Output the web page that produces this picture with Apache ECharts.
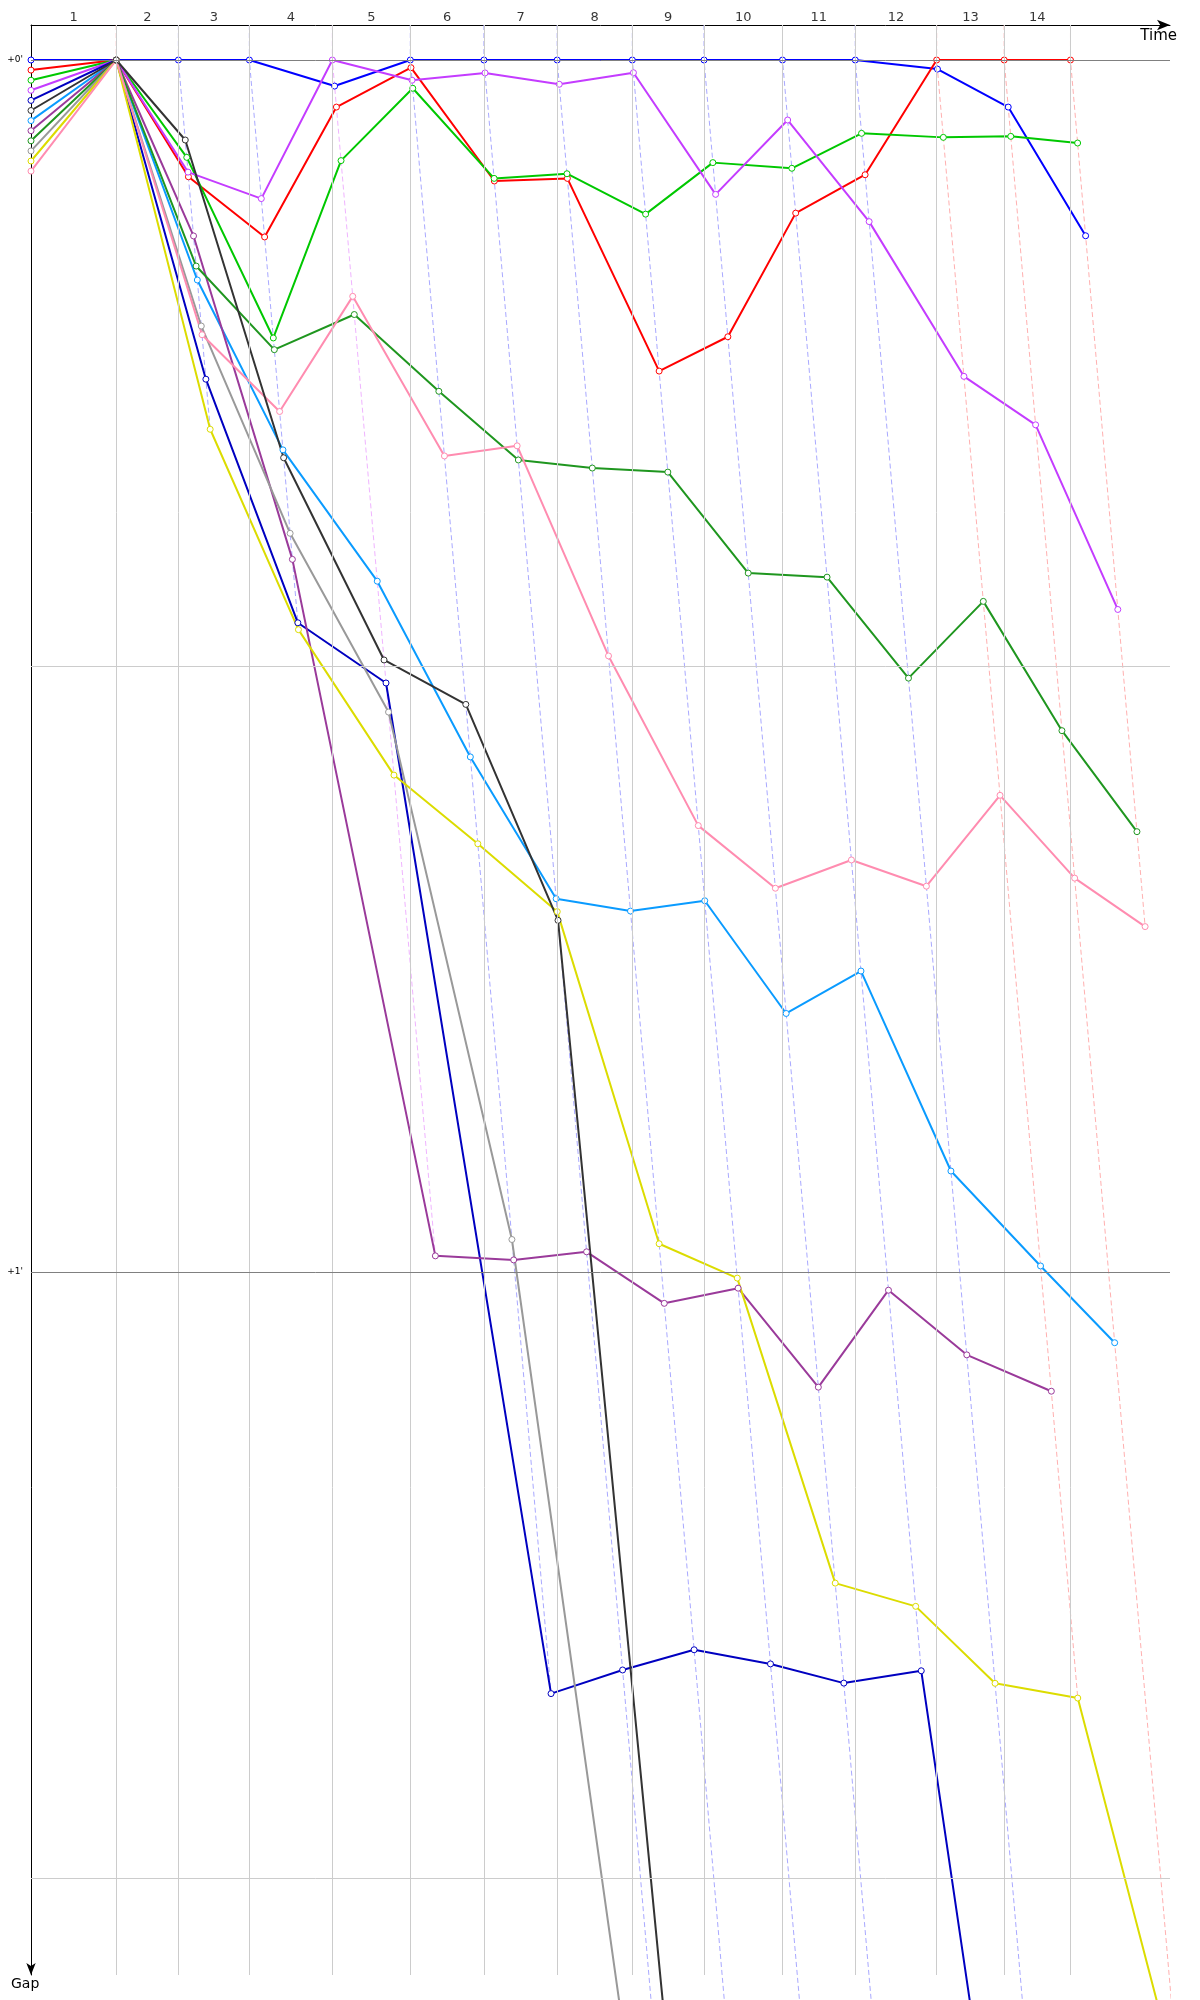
<!DOCTYPE html>
<html>
<head>
<meta charset="utf-8">
<script src="https://cdn.jsdelivr.net/npm/echarts@6/dist/echarts.min.js"></script>
<style>
html,body{margin:0;padding:0;background:#fff;}
#chart{width:1200px;height:2000px;}
</style>
</head>
<body>
<div id="chart"></div>
<script>
// ---- data ----
const lapLabels = ['1','2','3','4','5','6','7','8','9','10','11','12','13','14'];
// race time (s) at which the leader completed each lap
const lapEndTimes = [49.0, 84.7, 125.5, 173.2, 218.0, 260.3, 302.4, 345.6, 386.8, 431.9, 473.7, 520.5, 559.3, 597.4];
// leader at the end of each lap
const lapLeaders = ['red','blue','blue','violet','blue','blue','blue','blue','blue','blue','blue','red','red','red'];

// gap to leader (s): index 0 = start, index k = end of lap k
const gapsBlue      = [0.0, 0, 0, 0, 1.29, 0, 0, 0, 0, 0, 0, 0, 0.45, 2.33, 8.7];
const gapsRed       = [0.5, 0, 5.78, 8.76, 2.33, 0.38, 5.99, 5.86, 15.4, 13.7, 7.58, 5.68, 0, 0, 0];
const gapsGreen     = [1.0, 0, 4.82, 13.76, 4.98, 1.40, 5.86, 5.63, 7.63, 5.08, 5.36, 3.63, 3.83, 3.78, 4.11];
const gapsViolet    = [1.5, 0, 5.55, 6.86, 0, 1.0, 0.64, 1.2, 0.63, 6.65, 2.97, 8.0, 15.66, 18.06, 27.2];
const gapsDarkBlue  = [2.0, 0, 15.8, 27.86, 30.84, 80.87, 79.7, 78.7, 79.4, 80.35, 79.74, 138.8];
const gapsSky       = [3.0, 0, 10.89, 19.3, 25.8, 34.5, 41.52, 42.13, 41.62, 47.2, 45.1, 55.0, 59.7, 63.5];
const gapsPurple    = [3.5, 0, 8.71, 24.72, 59.2, 59.4, 59.0, 61.55, 60.8, 65.7, 60.9, 64.1, 65.9];
const gapsDarkGreen = [4.0, 0, 10.2, 14.34, 12.6, 16.4, 19.8, 20.2, 20.4, 25.4, 25.6, 30.6, 26.8, 33.2, 38.2];
const gapsGray      = [4.5, 0, 13.17, 23.43, 32.28, 58.39, 125, 165, 205, 245];
const gapsYellow    = [5.0, 0, 18.28, 28.2, 35.4, 38.8, 42.16, 58.6, 60.3, 75.4, 76.55, 80.36, 81.09, 100.2];
const gapsPink      = [5.5, 0, 13.6, 17.4, 11.7, 19.6, 19.1, 29.5, 37.9, 41.0, 39.6, 40.9, 36.4, 40.5, 42.9];
const gapsBlack     = [2.5, 0, 3.96, 19.69, 29.7, 31.9, 42.59, 380, 420, 460];

const carNames = ['blue','red','green','violet','darkblue','sky','purple','darkgreen','gray','yellow','pink','black'];
const carGaps  = [gapsBlue, gapsRed, gapsGreen, gapsViolet, gapsDarkBlue, gapsSky, gapsPurple, gapsDarkGreen, gapsGray, gapsYellow, gapsPink, gapsBlack];

// ---- styles ----
const carColors = {
  blue:'#0000ff', red:'#ff0000', green:'#00c800', violet:'#c43cff', darkblue:'#0000c0',
  black:'#333333', sky:'#0a9bff', purple:'#9a3a9a', darkgreen:'#1f961f', gray:'#999999',
  yellow:'#dcdc00', pink:'#ff8cb0'
};
const dashColors = { blue:'#a9a9ff', red:'#ffb0b0', violet:'#f0b4ff' };

const X_MIN = 0, X_MAX = 654.6, Y_MIN = -1.733, Y_MAX = 94.8;
const FONT = 'DejaVu Sans';

const series = [];

// grid lines (vertical at leader lap ends, horizontal every 30 s)
series.push({
  type: 'line', data: [], silent: true, z: 1,
  markLine: {
    silent: true, symbol: ['none','none'], animation: false,
    label: { show: false },
    data: [
      ...lapEndTimes.map(t => ({ xAxis: t, lineStyle: { color: '#cccccc', width: 1, type: 'solid' } })),
      { yAxis: 30, lineStyle: { color: '#cccccc', width: 1, type: 'solid' } },
      { yAxis: 90, lineStyle: { color: '#cccccc', width: 1, type: 'solid' } },
      { yAxis: 0, lineStyle: { color: '#808080', width: 1, type: 'solid' },
        label: { show: true, position: 'start', formatter: "+0'", color: '#000', fontSize: 9, fontFamily: FONT, distance: 8 } },
      { yAxis: 60, lineStyle: { color: '#808080', width: 1, type: 'solid' },
        label: { show: true, position: 'start', formatter: "+1'", color: '#000', fontSize: 9, fontFamily: FONT, distance: 8 } }
    ]
  }
});

// constant-lap dashed lines (leader time + gap)
lapEndTimes.forEach((t, i) => {
  let gMax = 0;
  carGaps.forEach(g => { if (g[i + 1] != null && g[i + 1] > gMax) gMax = g[i + 1]; });
  series.push({
    type: 'line', silent: true, z: 2, clip: false, showSymbol: false, symbol: 'none',
    lineStyle: { color: dashColors[lapLeaders[i]], width: 1, type: [5, 3] },
    emphasis: { disabled: true },
    data: [[t, Y_MIN], [t, 0], [t + gMax, gMax]]
  });
});

// lap number labels
series.push({
  type: 'scatter', silent: true, z: 5, clip: false, symbolSize: 0,
  label: { show: true, position: 'top', distance: 1, color: '#000', fontSize: 13, fontFamily: FONT,
           formatter: p => p.value[2] },
  data: lapLabels.map((lab, i) => [((i === 0 ? 0 : lapEndTimes[i - 1]) + lapEndTimes[i]) / 2, Y_MIN, lab])
});

// cars
carNames.forEach((name, ci) => {
  const g = carGaps[ci];
  const data = [];
  g.forEach((v, k) => {
    if (v == null) return;
    data.push(k === 0 ? [0, v] : [lapEndTimes[k - 1] + v, v]);
  });
  series.push({
    type: 'line', name: name, z: 3, clip: false, silent: true,
    symbol: 'circle', symbolSize: 6, showSymbol: true, showAllSymbol: true,
    itemStyle: { color: '#ffffff', borderColor: carColors[name], borderWidth: 1 },
    lineStyle: { color: carColors[name], width: 2 },
    emphasis: { disabled: true },
    data: data
  });
});

const chart = echarts.init(document.getElementById('chart'), null, { renderer: 'canvas' });
chart.setOption({
  animation: false,
  backgroundColor: '#ffffff',
  grid: { left: 31, top: 25, width: 1139, height: 1950, containLabel: false },
  xAxis: {
    type: 'value', position: 'top', min: X_MIN, max: X_MAX,
    axisLine: { show: true, onZero: false, lineStyle: { color: '#000', width: 1 }, symbol: ['none','arrow'], symbolSize: [8, 13] },
    axisTick: { show: false }, axisLabel: { show: false }, splitLine: { show: false }
  },
  yAxis: {
    type: 'value', inverse: true, min: Y_MIN, max: Y_MAX,
    axisLine: { show: true, onZero: false, lineStyle: { color: '#000', width: 1 }, symbol: ['arrow','none'], symbolSize: [7, 12] },
    axisTick: { show: false }, axisLabel: { show: false }, splitLine: { show: false }
  },
  graphic: [
    { type: 'text', right: 23, top: 29, style: { text: 'Time', font: '15px "' + FONT + '"', fill: '#000' } },
    { type: 'text', left: 11, top: 1977, style: { text: 'Gap', font: '14px "' + FONT + '"', fill: '#000' } }
  ],
  series: series
});
</script>
</body>
</html>
